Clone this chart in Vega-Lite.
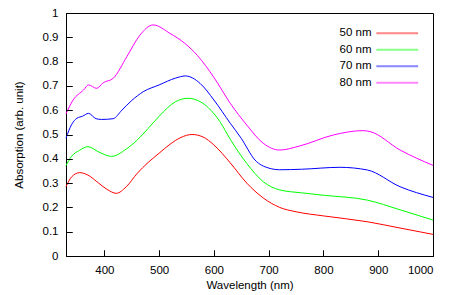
{
  "$schema": "https://vega.github.io/schema/vega-lite/v6.json",
  "width": 367,
  "height": 243,
  "autosize": {"type": "none"},
  "padding": {"left": 66, "top": 13, "right": 17, "bottom": 39},
  "config": {
    "view": {"stroke": "#000", "fill": null}
  },
  "data": {"values": [
    {"s": "50 nm", "x": 330, "y": 0.285}, {"s": "50 nm", "x": 340, "y": 0.325}, {"s": "50 nm", "x": 355, "y": 0.343}, {"s": "50 nm", "x": 370, "y": 0.333}, {"s": "50 nm", "x": 390, "y": 0.299}, {"s": "50 nm", "x": 405, "y": 0.274}, {"s": "50 nm", "x": 422, "y": 0.258}, {"s": "50 nm", "x": 440, "y": 0.285}, {"s": "50 nm", "x": 460, "y": 0.34}, {"s": "50 nm", "x": 480, "y": 0.385}, {"s": "50 nm", "x": 500, "y": 0.423}, {"s": "50 nm", "x": 520, "y": 0.46}, {"s": "50 nm", "x": 540, "y": 0.488}, {"s": "50 nm", "x": 560, "y": 0.5}, {"s": "50 nm", "x": 580, "y": 0.49}, {"s": "50 nm", "x": 600, "y": 0.457}, {"s": "50 nm", "x": 630, "y": 0.383}, {"s": "50 nm", "x": 660, "y": 0.3}, {"s": "50 nm", "x": 690, "y": 0.239}, {"s": "50 nm", "x": 720, "y": 0.2}, {"s": "50 nm", "x": 750, "y": 0.182}, {"s": "50 nm", "x": 800, "y": 0.165}, {"s": "50 nm", "x": 880, "y": 0.141}, {"s": "50 nm", "x": 940, "y": 0.115}, {"s": "50 nm", "x": 1000, "y": 0.089},
    {"s": "60 nm", "x": 330, "y": 0.372}, {"s": "60 nm", "x": 340, "y": 0.41}, {"s": "60 nm", "x": 355, "y": 0.435}, {"s": "60 nm", "x": 370, "y": 0.45}, {"s": "60 nm", "x": 390, "y": 0.428}, {"s": "60 nm", "x": 413, "y": 0.41}, {"s": "60 nm", "x": 440, "y": 0.44}, {"s": "60 nm", "x": 460, "y": 0.477}, {"s": "60 nm", "x": 480, "y": 0.525}, {"s": "60 nm", "x": 500, "y": 0.575}, {"s": "60 nm", "x": 530, "y": 0.635}, {"s": "60 nm", "x": 553, "y": 0.649}, {"s": "60 nm", "x": 575, "y": 0.635}, {"s": "60 nm", "x": 590, "y": 0.61}, {"s": "60 nm", "x": 611, "y": 0.553}, {"s": "60 nm", "x": 630, "y": 0.48}, {"s": "60 nm", "x": 660, "y": 0.381}, {"s": "60 nm", "x": 690, "y": 0.306}, {"s": "60 nm", "x": 720, "y": 0.272}, {"s": "60 nm", "x": 760, "y": 0.26}, {"s": "60 nm", "x": 800, "y": 0.25}, {"s": "60 nm", "x": 880, "y": 0.23}, {"s": "60 nm", "x": 940, "y": 0.19}, {"s": "60 nm", "x": 1000, "y": 0.148},
    {"s": "70 nm", "x": 330, "y": 0.485}, {"s": "70 nm", "x": 340, "y": 0.54}, {"s": "70 nm", "x": 350, "y": 0.567}, {"s": "70 nm", "x": 360, "y": 0.575}, {"s": "70 nm", "x": 371, "y": 0.587}, {"s": "70 nm", "x": 385, "y": 0.565}, {"s": "70 nm", "x": 395, "y": 0.562}, {"s": "70 nm", "x": 416, "y": 0.565}, {"s": "70 nm", "x": 432, "y": 0.6}, {"s": "70 nm", "x": 450, "y": 0.64}, {"s": "70 nm", "x": 471, "y": 0.676}, {"s": "70 nm", "x": 500, "y": 0.704}, {"s": "70 nm", "x": 530, "y": 0.732}, {"s": "70 nm", "x": 548, "y": 0.741}, {"s": "70 nm", "x": 575, "y": 0.71}, {"s": "70 nm", "x": 600, "y": 0.642}, {"s": "70 nm", "x": 630, "y": 0.546}, {"s": "70 nm", "x": 650, "y": 0.484}, {"s": "70 nm", "x": 675, "y": 0.395}, {"s": "70 nm", "x": 700, "y": 0.362}, {"s": "70 nm", "x": 720, "y": 0.355}, {"s": "70 nm", "x": 760, "y": 0.357}, {"s": "70 nm", "x": 830, "y": 0.365}, {"s": "70 nm", "x": 880, "y": 0.354}, {"s": "70 nm", "x": 940, "y": 0.285}, {"s": "70 nm", "x": 1000, "y": 0.241},
    {"s": "80 nm", "x": 330, "y": 0.585}, {"s": "80 nm", "x": 343, "y": 0.642}, {"s": "80 nm", "x": 362, "y": 0.683}, {"s": "80 nm", "x": 371, "y": 0.704}, {"s": "80 nm", "x": 386, "y": 0.69}, {"s": "80 nm", "x": 398, "y": 0.713}, {"s": "80 nm", "x": 416, "y": 0.731}, {"s": "80 nm", "x": 441, "y": 0.82}, {"s": "80 nm", "x": 465, "y": 0.909}, {"s": "80 nm", "x": 489, "y": 0.951}, {"s": "80 nm", "x": 520, "y": 0.916}, {"s": "80 nm", "x": 547, "y": 0.875}, {"s": "80 nm", "x": 570, "y": 0.825}, {"s": "80 nm", "x": 600, "y": 0.735}, {"s": "80 nm", "x": 630, "y": 0.628}, {"s": "80 nm", "x": 660, "y": 0.539}, {"s": "80 nm", "x": 690, "y": 0.464}, {"s": "80 nm", "x": 720, "y": 0.436}, {"s": "80 nm", "x": 757, "y": 0.453}, {"s": "80 nm", "x": 818, "y": 0.498}, {"s": "80 nm", "x": 872, "y": 0.516}, {"s": "80 nm", "x": 885, "y": 0.512}, {"s": "80 nm", "x": 940, "y": 0.436}, {"s": "80 nm", "x": 1000, "y": 0.373}
  ]},
  "layer": [
    {
      "mark": {"type": "line", "interpolate": "monotone", "strokeWidth": 1},
      "encoding": {
        "x": {"field": "x", "type": "quantitative", "scale": {"domain": [330, 1000], "nice": false, "zero": false},
          "axis": {"title": "Wavelength (nm)", "zindex": 1, "values": [400, 500, 600, 700, 800, 900, 1000], "grid": false, "domain": false, "tickSize": -6, "tickColor": "#000", "labelPadding": 14, "titlePadding": 4, "format": "d", "labelFont": "Liberation Sans", "labelFontSize": 11.5, "labelColor": "#000", "titleFont": "Liberation Sans", "titleFontSize": 11.5, "titleFontWeight": "normal", "titleColor": "#000"}},
        "y": {"field": "y", "type": "quantitative", "scale": {"domain": [0, 1], "nice": false},
          "axis": {"title": "Absorption (arb. unit)", "zindex": 1, "values": [0, 0.1, 0.2, 0.3, 0.4, 0.5, 0.6, 0.7, 0.8, 0.9, 1], "grid": false, "domain": false, "tickSize": -6, "tickColor": "#000", "labelPadding": 14, "titlePadding": 18, "format": ".1~f", "labelFont": "Liberation Sans", "labelFontSize": 11.5, "labelColor": "#000", "titleFont": "Liberation Sans", "titleFontSize": 11.5, "titleFontWeight": "normal", "titleColor": "#000"}},
        "color": {"field": "s", "type": "nominal",
          "scale": {"domain": ["50 nm", "60 nm", "70 nm", "80 nm"], "range": ["#ff0000", "#00ff00", "#0000ff", "#ff00ff"]},
          "legend": {"title": null, "zindex": 1, "orient": "none", "legendX": 325.5, "legendY": 14.5, "symbolType": "M-20.5,-0.5H20.5V0.5H-20.5Z", "symbolSize": 4, "symbolStrokeWidth": 0.5, "rowPadding": 3.5, "labelAlign": "right", "labelOffset": -31.5, "labelFont": "Liberation Sans", "labelFontSize": 11.5, "labelColor": "#000"}}
      }
    },
    {
      "mark": {"type": "line", "interpolate": "monotone", "strokeOpacity": 0},
      "encoding": {
        "x": {"field": "x", "type": "quantitative", "axis": {"orient": "top", "offset": -243, "zindex": 1, "title": null, "labels": false, "grid": false, "domain": false, "values": [400, 500, 600, 700, 800, 900, 1000], "tickSize": 6, "tickColor": "#000"}},
        "y": {"field": "y", "type": "quantitative", "axis": {"orient": "right", "offset": -367, "zindex": 1, "title": null, "labels": false, "grid": false, "domain": false, "values": [0, 0.1, 0.2, 0.3, 0.4, 0.5, 0.6, 0.7, 0.8, 0.9, 1], "tickSize": 6, "tickColor": "#000"}},
        "detail": {"field": "s", "type": "nominal"}
      }
    }
  ],
  "resolve": {"axis": {"x": "independent", "y": "independent"}}
}
